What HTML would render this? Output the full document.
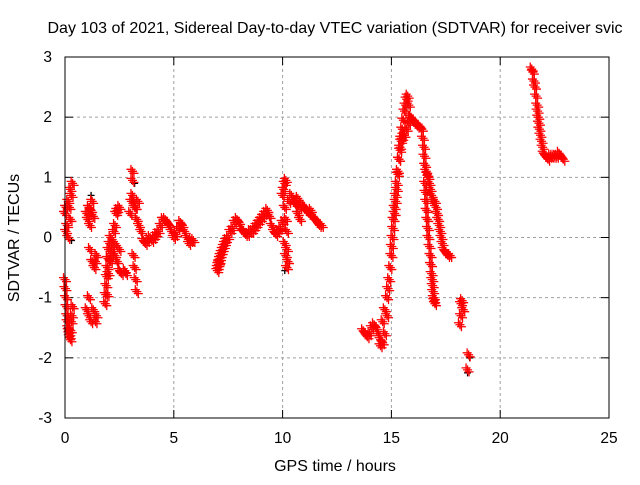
<!DOCTYPE html>
<html><head><meta charset="utf-8"><style>
body{margin:0;background:#fff}
svg text{font-family:"Liberation Sans",sans-serif;font-size:15.5px;fill:#000}
</style></head><body>
<svg id="c" width="640" height="480" xmlns="http://www.w3.org/2000/svg">
<rect width="640" height="480" fill="#fff"/>
<text x="335" y="33" text-anchor="middle" style="font-size:16px">Day 103 of 2021, Sidereal Day-to-day VTEC variation (SDTVAR) for receiver svic</text>
<text x="335" y="471" text-anchor="middle" style="font-size:16px">GPS time / hours</text>
<text transform="translate(19,238) rotate(-90)" text-anchor="middle" style="font-size:16px">SDTVAR / TECUs</text>
<g id="grid"></g><g id="ticks"></g><g id="pts"></g>
<rect x="65" y="57" width="544" height="361" fill="none" stroke="#000"/>
</svg>
<script>
const xTicks=[0,5,10,15,20,25];
const yTicks=[-3,-2,-1,0,1,2,3];
const redT=[0,0.05,0.1,0.15,0.2,0.25,0.3,0.35,0.05,0.15,0.25,0,0.05,0.1,0.15,0.2,0.25,0.3,0.35,
0.02,0.07,0.12,0.17,0.22,0.27,0.32,
1,1.05,1.1,1.15,1.2,1.25,1.3,1.15,1.25,1.35,1.4,1.45,1,1.1,1.2,1.3,1.4,1.45,1.1,
1.85,1.9,1.95,2,2.05,2.1,2.15,2.2,2.25,2.3,2.35,2.4,2.5,1.95,2,2.1,2.2,2.3,2.4,2.5,2.6,2.3,2.5,2.75,2.8,1.87,1.92,1.97,
3,3.05,3.1,3.15,3.2,3.25,3.3,3.35,3.4,3.5,3.6,3.7,3.8,3.9,4,4.1,4.2,4.3,4.4,4.5,4.6,4.7,4.8,4.9,5,5.1,5.2,5.3,5.4,5.5,5.6,5.7,5.8,5.9,3.1,3.1,3.15,3.2,3.25,3.3,
7,7.05,7.1,7.15,7.2,7.3,7.4,7.5,7.6,7.7,7.8,7.9,8,8.1,8.2,8.3,8.4,8.5,8.6,8.7,8.8,8.9,9,9.1,9.2,9.3,9.4,9.5,9.6,9.7,9.8,9.9,10,
7.02,7.08,7.12,7.25,7.35,
10,10.05,10.1,10.15,10.1,10.15,10.2,10.1,10.15,10.2,10.25,10.2,10.3,10.4,10.5,10.6,10.7,10.8,10.9,11,11.1,11.2,11.3,11.4,11.5,11.6,11.7,11.8,10.7,10.8,
13.7,13.8,13.9,14,14.1,14.2,14.3,14.4,14.5,14.6,14.7,14.8,14.9,15,15.05,15.1,15.2,15.3,15.4,15.5,15.6,15.7,15.75,15.8,15.85,14.5,14.6,14.7,14.8,
14.85,14.95,15.02,15.08,15.15,15.25,15.35,15.45,15.55,15.65,
15.6,15.7,15.8,15.9,16,16.1,16.2,16.3,16.4,16.5,16.55,16.6,16.7,16.8,16.9,17,17.1,17.2,17.3,17.4,17.5,17.6,17.7,
16.45,16.52,16.65,16.75,16.85,16.95,17.05,17.15,17.25,17.35,
16.55,16.6,16.65,16.7,16.8,16.85,16.9,16.95,17,15.15,15.25,15.35,15.45,
16.57,16.62,16.68,16.75,16.82,16.88,16.92,16.97,15.2,15.3,15.4,15.5,15.55,
18.2,18.25,18.3,18.2,18.15,18.55,18.5,
21.45,21.5,21.6,21.7,21.75,21.8,21.9,22,22.1,22.2,22.3,22.4,22.5,22.6,22.7,22.8,22.9,
21.55,21.65,21.72,21.78,21.85,21.95,22.05];
const redV=[0.4,0.5,0.2,0.6,0.5,0.8,0.7,0.9,0.1,0,0.3,-0.7,-1,-1.3,-1.5,-1.6,-1.7,-1.4,-1.15,
-0.85,-1.15,-1.4,-1.55,-1.65,-1.55,-1.3,
0.4,0.3,0.5,0.2,0.45,0.6,0.35,-0.2,-0.4,-0.5,-0.4,-0.3,-1.2,-1.3,-1.4,-1.2,-1.4,-1.3,-1,
-1.1,-0.8,-0.5,-0.2,-0.1,0,-0.3,-0.1,0.1,0.2,0.4,0.45,0.5,-0.95,-0.6,-0.4,-0.2,-0.3,-0.4,-0.55,-0.6,-0.1,-0.2,-0.55,-0.6,-0.95,-0.65,-0.35,
0.4,0.6,0.7,0.6,0.5,0.5,0.3,0.6,0.2,0.1,-0.05,-0.1,-0.05,0,-0.05,0,0.05,0.1,0.2,0.3,0.3,0.25,0.2,0.1,0,0.05,0.15,0.25,0.2,0.1,0,-0.1,-0.05,-0.05,1.1,0.95,-0.3,-0.5,-0.7,-0.9,
-0.55,-0.45,-0.4,-0.3,-0.25,-0.15,-0.05,0,0.1,0.15,0.25,0.3,0.25,0.15,0.1,0.05,0.05,0.1,0.1,0.15,0.2,0.25,0.3,0.35,0.4,0.45,0.35,0.2,0.1,0.05,0.1,0.15,0.25,
-0.5,-0.42,-0.35,-0.2,-0.1,
0.7,0.8,0.9,0.95,0.5,0.3,0.1,-0.1,-0.3,-0.5,-0.4,-0.2,0.6,0.7,0.6,0.55,0.65,0.5,0.55,0.5,0.45,0.4,0.45,0.35,0.3,0.25,0.2,0.2,0.4,0.3,
-1.55,-1.6,-1.65,-1.6,-1.5,-1.45,-1.5,-1.6,-1.7,-1.4,-1.2,-1,-0.7,-0.3,0,0.3,0.7,1.1,1.5,1.8,2.1,2.3,2.35,2.2,2,-1.8,-1.75,-1.6,-1.3,
-0.85,-0.5,-0.15,0.15,0.5,0.9,1.3,1.65,1.95,2.2,
1.7,1.8,1.9,2,1.95,1.9,1.85,1.85,1.8,1.5,1.2,1.1,1,0.8,0.6,0.6,0.4,0.2,0,-0.2,-0.25,-0.3,-0.3,
1.65,1.35,1.05,0.9,0.7,0.6,0.5,0.3,0.1,-0.1,
0.9,0.6,0.3,0,-0.3,-0.6,-0.8,-1,-1.1,0.4,0.8,1.3,1.6,
0.75,0.45,0.15,-0.15,-0.45,-0.7,-0.9,-1.05,0.6,1.05,1.45,1.65,1.7,
-1.1,-1.05,-1.2,-1.3,-1.45,-1.95,-2.2,
2.8,2.75,2.5,2.2,2,1.8,1.6,1.4,1.35,1.3,1.35,1.35,1.35,1.35,1.4,1.35,1.3,
2.6,2.35,2.1,1.9,1.7,1.5,1.37];
const blackT=[0.3,1.2,3.2,18.6,18.5,10.1];
const blackV=[-0.05,0.7,0.9,-2.0,-2.25,-0.55];
const X=t=>65+t*544/25, Y=v=>237.5-v*361/6;
const NS='http://www.w3.org/2000/svg';
const g=document.getElementById('grid'),tk=document.getElementById('ticks'),p=document.getElementById('pts');
function mk(tag,a,par){const e=document.createElementNS(NS,tag);for(const k in a)e.setAttribute(k,a[k]);par.appendChild(e);return e;}
xTicks.forEach(t=>{const x=X(t);
 if(t>0&&t<25){const l=mk('line',{x1:x,y1:57,x2:x,y2:418,stroke:'#a0a0a0','stroke-dasharray':'3,3'},g);
 
 }
 mk('line',{x1:x,y1:418,x2:x,y2:410,stroke:'#000'},tk);mk('line',{x1:x,y1:57,x2:x,y2:65,stroke:'#000'},tk);
 const s=mk('text',{x:x,y:443,'text-anchor':'middle'},tk);s.textContent=t;
 
 });
yTicks.forEach(v=>{const y=Y(v);
 if(v>-3&&v<3){const l=mk('line',{x1:65,y1:y,x2:609,y2:y,stroke:'#a0a0a0','stroke-dasharray':'3,3'},g);
 
 }
 mk('line',{x1:65,y1:y,x2:73,y2:y,stroke:'#000'},tk);mk('line',{x1:609,y1:y,x2:601,y2:y,stroke:'#000'},tk);
 const s=mk('text',{x:52,y:y+5,'text-anchor':'end'},tk);s.textContent=v;
 
 });
function plus(t,v,c,r,thick){const x=X(t),y=Y(v);
 let d=`M${x-r},${y}h${2*r}M${x},${y-r}v${2*r}`;
 if(thick){d+=`M${x-r-1.5},${y-2}h${2*r}M${x-1.5},${y-r-2}v${2*r}M${x-r+1.5},${y+2}h${2*r}M${x+1.5},${y-r+2}v${2*r}`;}
 return mk('path',{d:d,stroke:c,'stroke-width':1.3,fill:'none'},p);}
blackT.forEach((t,i)=>{const e=plus(t,blackV[i],'#000',3.5,false);
 
 });
redT.forEach((t,i)=>{const e=plus(t,redV[i],'#f00',4.5,true);
 
 });
</script>
</body></html>
